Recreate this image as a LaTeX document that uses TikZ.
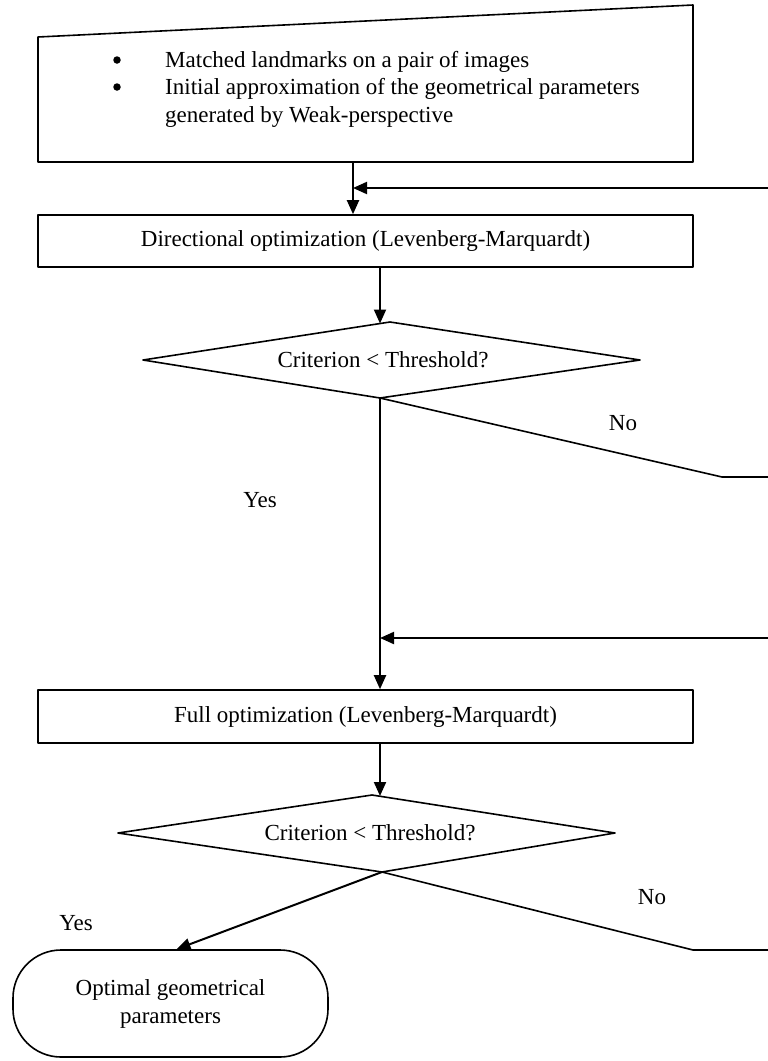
\documentclass[tikz,border=0pt]{standalone}
\usepackage{fontspec}
\setmainfont{Liberation Serif}
\usetikzlibrary{arrows.meta}
\begin{document}
\begin{tikzpicture}[x=1pt,y=-1pt,line join=round,
  outline/.style={draw=black,line width=1.6pt},
  link/.style={draw=black,line width=1.6pt},
  flow/.style={draw=black,line width=2pt,-{Triangle[length=14pt,width=12pt]}},
  txt/.style={font=\fontsize{23}{28}\selectfont,inner sep=0pt},
  procbox/.style={outline,rectangle,minimum width=655pt,minimum height=52pt,inner sep=0pt,
    font=\fontsize{23}{28}\selectfont},
  bulletdot/.style={circle,fill=black,inner sep=0pt,minimum size=7.5pt},
  terminal/.style={outline,rectangle,rounded corners=48pt,minimum width=315pt,
    minimum height=107pt,align=center,font=\fontsize{23}{28}\selectfont,inner sep=0pt},
]
\useasboundingbox (0,0) rectangle (768,1061);

% input block (skewed top edge)
\coordinate (in-tl) at (38,37);
\coordinate (in-tr) at (693,5);
\coordinate (in-br) at (693,162);
\coordinate (in-bl) at (38,162);
\draw[outline] (in-tl) -- (in-tr) -- (in-br) -- (in-bl) -- cycle;
\node[bulletdot] (dot1) at (117,60) {};
\node[bulletdot] (dot2) at (117,87) {};
\node[txt,anchor=base west] (item1) at (165,67) {Matched landmarks on a pair of images};
\node[txt,anchor=base west] (item2) at (165,94) {Initial approximation of the geometrical parameters};
\node[txt,anchor=base west] (item3) at (165,122) {generated by Weak-perspective};
\coordinate (in-out) at (353,162);

% directional optimization
\node[procbox] (dir) at (365.5,241) {Directional optimization (Levenberg-Marquardt)};

% first decision
\coordinate (d1w) at (143,360);
\coordinate (d1n) at (390,322);
\coordinate (d1e) at (640,360);
\coordinate (d1s) at (380,398);
\draw[outline] (d1w) -- (d1n) -- (d1e) -- (d1s) -- cycle;
\node[txt] (crit1) at (383,360) {Criterion < Threshold?};

% full optimization
\node[procbox,minimum height=53pt] (full) at (365.5,716.5) {Full optimization (Levenberg-Marquardt)};

% second decision
\coordinate (d2w) at (118,833);
\coordinate (d2n) at (372,795);
\coordinate (d2e) at (615,833);
\coordinate (d2s) at (382,872);
\draw[outline] (d2w) -- (d2n) -- (d2e) -- (d2s) -- cycle;
\node[txt] (crit2) at (370,833) {Criterion < Threshold?};

% result
\node[terminal] (opt) at (170.5,1003.5) {Optimal geometrical\\parameters};

% connectors
\draw[flow] (in-out) -- (in-out |- dir.north);
\coordinate (back1) at (768,188);
\draw[flow] (back1) -- (back1 -| in-out);
\draw[flow] (d1s |- dir.south) -- (380,323.5);
\draw[flow] (d1s) -- (d1s |- full.north);
\coordinate (no1bend) at (722,477);
\coordinate (no1end) at (768,477);
\draw[link] (d1s) -- (no1bend) -- (no1end);
\coordinate (back2) at (768,638);
\draw[flow] (back2) -- (back2 -| d1s);
\draw[flow] (380,743) -- (380,796);
\draw[flow] (d2s) -- ([xshift=6pt]opt.north);
\coordinate (no2bend) at (693,950);
\coordinate (no2end) at (768,950);
\draw[link] (d2s) -- (no2bend) -- (no2end);

% branch labels
\node[txt] (yes1) at (260,500) {Yes};
\node[txt] (no1) at (623,423) {No};
\node[txt] (no2) at (652,897) {No};
\node[txt] (yes2) at (76,923) {Yes};
\end{tikzpicture}
\end{document}
